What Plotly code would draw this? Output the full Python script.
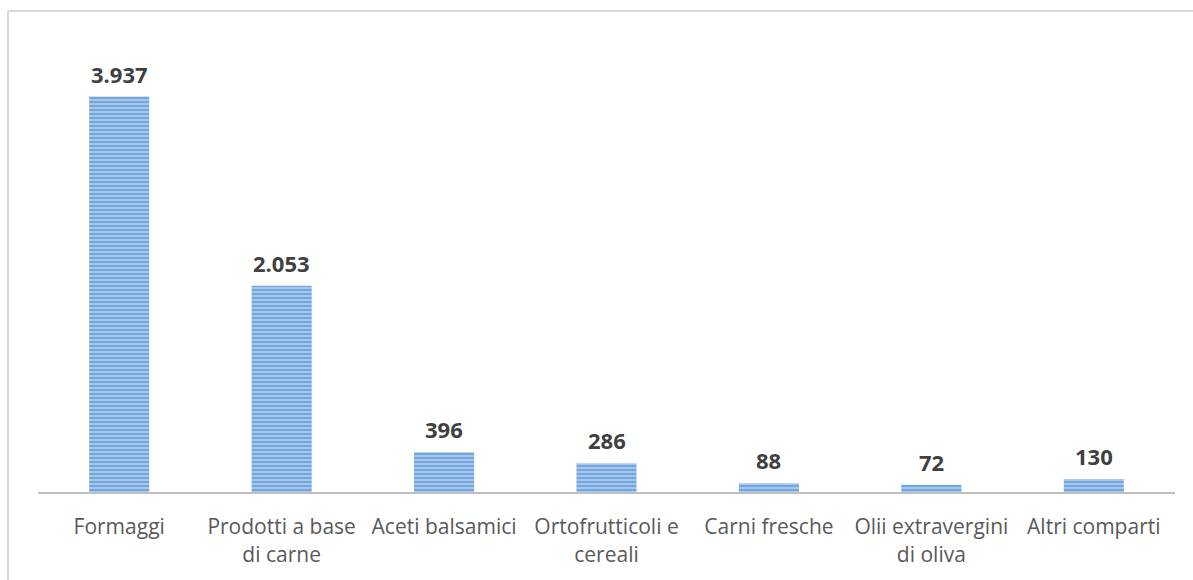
import plotly.graph_objects as go

# Comparti produttivi e relativi valori
categorie = [
    "Formaggi",
    "Prodotti a base<br>di carne",
    "Aceti balsamici",
    "Ortofrutticoli e<br>cereali",
    "Carni fresche",
    "Olii extravergini<br>di oliva",
    "Altri comparti",
]
valori = [3937, 2053, 396, 286, 88, 72, 130]

FONT = "Open Sans"

fig = go.Figure(
    go.Bar(
        x=categorie,
        y=valori,
        marker=dict(
            color="#acc9eb",
            line=dict(width=0),
            pattern=dict(shape="-", fgcolor="#3a82d4", size=4, solidity=0.55),
        ),
        hoverinfo="skip",
    )
)

# Etichette con il valore sopra ogni barra (separatore delle migliaia ".")
for c, v in zip(categorie, valori):
    fig.add_annotation(
        x=c, y=v, xref="x", yref="y",
        text=f"{v:,}".replace(",", "."),
        showarrow=False, yanchor="bottom", yshift=6,
        font=dict(family=FONT, size=22, color="#404040", weight="bold"),
    )

# Cornice grigia chiara del grafico
bordo = dict(color="#d9d9d9", width=2)
fig.add_shape(type="line", xref="paper", yref="paper",
              x0=-0.0264, x1=-0.0264, y0=-0.2, y1=1.064, line=bordo)
fig.add_shape(type="line", xref="paper", yref="paper",
              x0=-0.0264, x1=1.02, y0=1.064, y1=1.064, line=bordo)

fig.update_layout(
    width=1193, height=580,
    margin=dict(l=38, r=18, t=40, b=86),
    paper_bgcolor="white", plot_bgcolor="white",
    bargap=0.63,
    showlegend=False,
    font=dict(family=FONT),
    xaxis=dict(
        showline=True, linecolor="#bfbfbf", linewidth=2,
        showgrid=False, ticks="", ticklabelstandoff=15,
        tickfont=dict(family=FONT, size=21, color="#595959"),
    ),
    yaxis=dict(range=[0, 4500], visible=False, showgrid=False, zeroline=False),
)

fig.write_html("out.html")
